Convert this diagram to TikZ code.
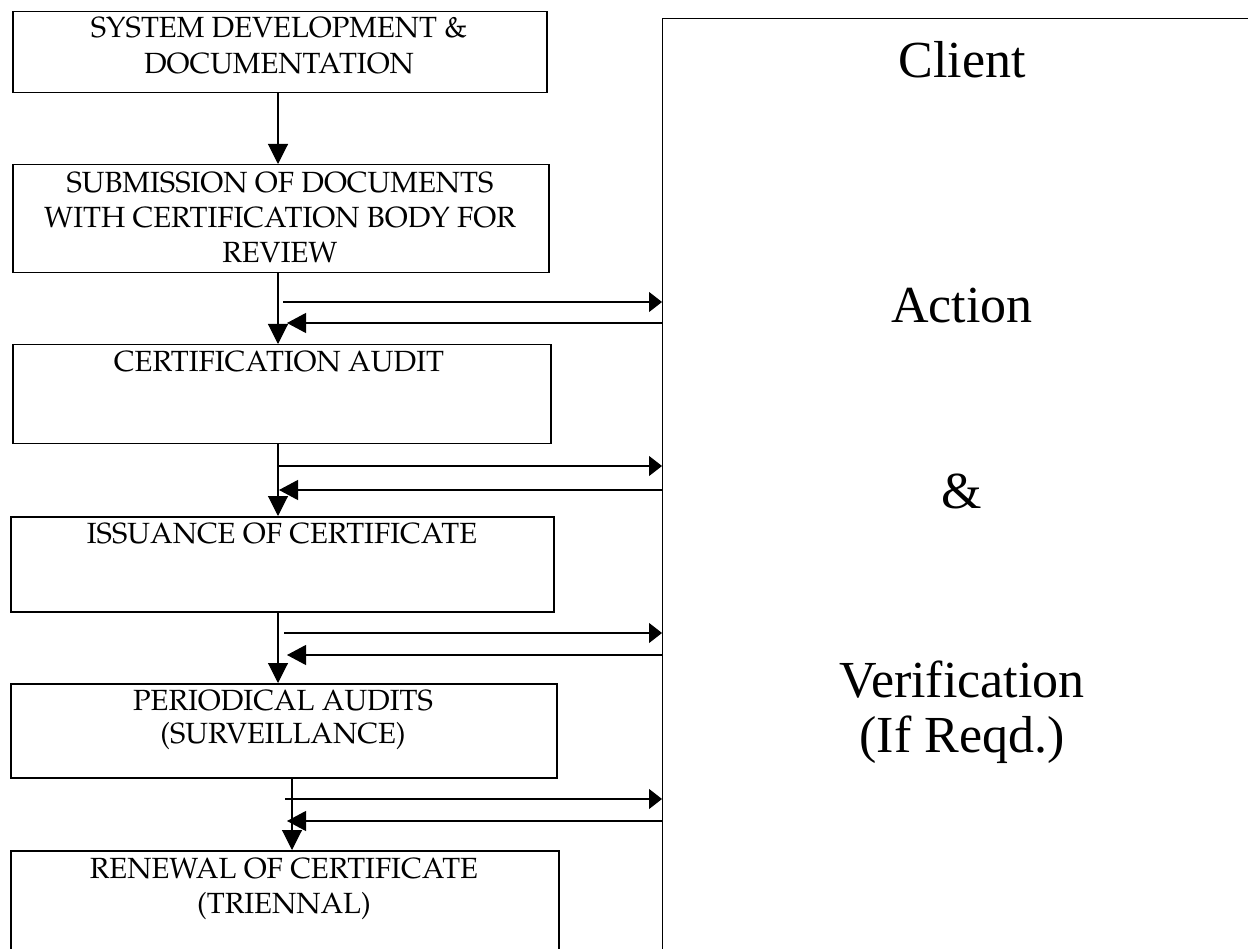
\documentclass[tikz,border=0pt]{standalone}
\usepackage[T1]{fontenc}
\usepackage{fontspec}
\setmainfont{Liberation Serif}
\usetikzlibrary{arrows.meta}
\newcommand\palfont{\fontencoding{T1}\fontfamily{ppl}\selectfont\fontsize{29.2}{35}\selectfont}
\newcommand\bigfont{\fontsize{52}{60}\selectfont}
\begin{document}
\begin{tikzpicture}[x=1pt,y=-1pt,
  box/.style={draw, line width=1.5pt, inner sep=0pt, anchor=north west},
  clientbox/.style={draw, line width=1.2pt, inner sep=0pt, anchor=north west},
  lbl/.style={font=\palfont, anchor=base, inner sep=0pt},
  big/.style={font=\bigfont, anchor=base, inner sep=0pt},
  flow/.style={line width=1.1pt, -{Triangle[length=20pt,width=20pt]}},
  toclient/.style={line width=1.1pt, -{Triangle[length=13pt,width=20pt]}},
  fromclient/.style={line width=1.1pt, -{Triangle[length=19pt,width=20pt]}}]
\clip (0,0) rectangle (1248,949);
\fill[white] (0,0) rectangle (1248,949);

% boxes
\node[box, minimum width=534pt, minimum height=81pt] (b1) at (12,11) {};
\node[box, minimum width=536pt, minimum height=108pt] (b2) at (12,164) {};
\node[box, minimum width=538pt, minimum height=99pt] (b3) at (12,344) {};
\node[box, minimum width=543pt, minimum height=95pt] (b4) at (10,516) {};
\node[box, minimum width=546pt, minimum height=94pt] (b5) at (10,683) {};
\node[box, minimum width=548pt, minimum height=140pt] (b6) at (10,850) {};
\node[clientbox, minimum width=700pt, minimum height=1000pt] (client) at (662,18) {};

% box texts
\node[lbl] (t1a) at (279,38) {SYSTEM DEVELOPMENT \&};
\node[lbl] (t1b) at (279,74) {DOCUMENTATION};
\node[lbl] (t2a) at (280,193) {SUBMISSION OF DOCUMENTS};
\node[lbl] (t2b) at (280,228) {WITH CERTIFICATION BODY FOR};
\node[lbl] (t2c) at (280,263) {REVIEW};
\node[lbl] (t3a) at (279,372) {CERTIFICATION AUDIT};
\node[lbl] (t4a) at (282,543) {ISSUANCE OF CERTIFICATE};
\node[lbl] (t5a) at (283,710) {PERIODICAL AUDITS};
\node[lbl] (t5b) at (283,743) {(SURVEILLANCE)};
\node[lbl] (t6a) at (284,878) {RENEWAL OF CERTIFICATE};
\node[lbl] (t6b) at (284,913) {(TRIENNAL)};

% client texts
\node[big] (ca) at (962,78) {Client};
\node[big] (cb) at (962,323) {Action};
\node[big] (cc) at (962,508) {\&};
\node[big] (cd) at (962,697) {Verification};
\node[big] (ce) at (962,752) {(If Reqd.)};

% columns and rows for connectors
\coordinate (c1) at (278,0);
\coordinate (c2) at (292,0);
\coordinate (r1) at (283,302);
\coordinate (l1) at (287,323);
\coordinate (r2) at (278,466);
\coordinate (l2) at (279,490);
\coordinate (r3) at (284,633);
\coordinate (l3) at (287,655);
\coordinate (r4) at (285,799);
\coordinate (l4) at (287,821);

% vertical flow
\draw[flow] (b1.south -| c1) -- (b2.north -| c1);
\draw[flow] (b2.south -| c1) -- (b3.north -| c1);
\draw[flow] (b3.south -| c1) -- (b4.north -| c1);
\draw[flow] (b4.south -| c1) -- (b5.north -| c1);
\draw[flow] (b5.south -| c2) -- (b6.north -| c2);

% to and from client
\draw[toclient] (r1) -- (r1 -| client.west);
\draw[fromclient] (l1 -| client.west) -- (l1);
\draw[toclient] (r2) -- (r2 -| client.west);
\draw[fromclient] (l2 -| client.west) -- (l2);
\draw[toclient] (r3) -- (r3 -| client.west);
\draw[fromclient] (l3 -| client.west) -- (l3);
\draw[toclient] (r4) -- (r4 -| client.west);
\draw[fromclient] (l4 -| client.west) -- (l4);
\end{tikzpicture}
\end{document}
